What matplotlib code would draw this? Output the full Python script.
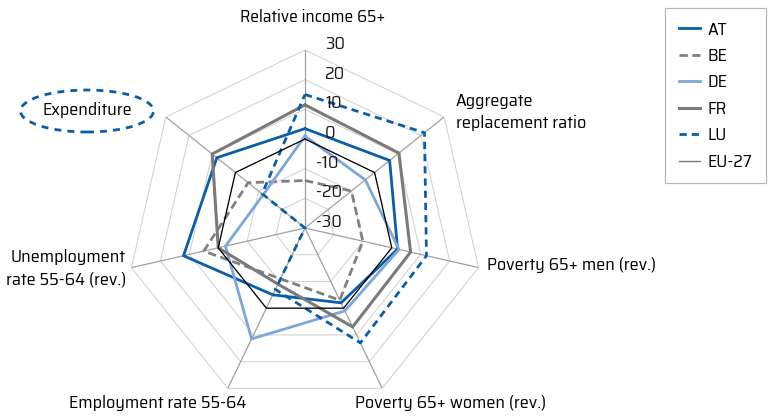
import numpy as np
import matplotlib
matplotlib.use("Agg")
import matplotlib.pyplot as plt
from matplotlib.lines import Line2D
from matplotlib.patches import Ellipse

# --------------------------------------------------------------------------- #
# Data (deviation from EU-27, clockwise from the top axis)                     #
# --------------------------------------------------------------------------- #
axis_labels = ["Relative income 65+", "Aggregate\nreplacement ratio",
               "Poverty 65+ men (rev.)", "Poverty 65+ women (rev.)",
               "Employment rate 55-64", "Unemployment\nrate 55-64 (rev.)",
               "Expenditure"]
ticks = [30, 20, 10, 0, -10, -20, -30]

AT = [3.5, 6.5, 2, -2, -5, 12, 8]
BE = [-14, -10, -10, -3, -11, 5, -5.5]
DE = [1, -4, 2.5, 1, 11.5, -2.5, -12]
FR = [11.5, 10.5, 6.5, 7, -9, 0, 10]
LU = [15, 21.5, 12, 13, -7, -30, -11.5]
EU27 = [0, 0, 0, 0, 0, 0, 0]

series = [
    ("AT", AT, dict(color="#0a5ea8", lw=2.0, ls="-")),
    ("BE", BE, dict(color="#808080", lw=2.0, ls=(0, (3, 1.6)))),
    ("DE", DE, dict(color="#7da6d9", lw=2.0, ls="-")),
    ("FR", FR, dict(color="#7a7a7a", lw=2.2, ls="-")),
    ("LU", LU, dict(color="#0a5ea8", lw=2.0, ls=(0, (2.6, 1.8)))),
    ("EU-27", EU27, dict(color="#000000", lw=0.9, ls="-")),
]

plt.rcParams["font.family"] = ["Saira SemiCondensed", "Roboto Condensed",
                               "DejaVu Sans"]
W, H = 771, 416
fig = plt.figure(figsize=(W / 100, H / 100), dpi=100)

# centre of the web at (305, 228) px, radius 178 px
cx, cy, R = 305, 228, 178
ax = fig.add_axes([(cx - R) / W, 1 - (cy + R) / H, 2 * R / W, 2 * R / H],
                  projection="polar")
ax.set_theta_offset(np.pi / 2)
ax.set_theta_direction(-1)
ax.set_ylim(-30, 30)
ax.axis("off")

n = len(axis_labels)
theta = np.linspace(0, 2 * np.pi, n, endpoint=False)
theta_c = np.append(theta, theta[0])

# heptagon grid + spokes
for lev in [-20, -10, 0, 10, 20, 30]:
    ax.plot(theta_c, [lev] * (n + 1), color="#d4d4d4", lw=0.8, zorder=1)
for t in theta:
    ax.plot([t, t], [-30, 30], color="#a0a0a0", lw=0.9, zorder=1)

for name, vals, st in series:
    v = np.append(vals, vals[0])
    ax.plot(theta_c, v, label=name, zorder=3, solid_joinstyle="miter", **st)

# radial tick labels beside the top axis
for tv in ticks:
    dx = 20 if tv >= 0 else 11
    ax.annotate(str(tv), xy=(0, tv), xytext=(dx, 6), textcoords="offset pixels",
                ha="left", va="center", fontsize=13, color="#1a1a1a")

# axis names (pixel positions of the reference)
fs = 13
def px(x, y):
    return x / W, 1 - y / H

fig.text(*px(313, 17), axis_labels[0], ha="center", va="center", fontsize=12.6)
fig.text(*px(456, 112), axis_labels[1], ha="left", va="center", fontsize=fs,
         linespacing=1.5)
fig.text(*px(487, 265), axis_labels[2], ha="left", va="center", fontsize=fs)
fig.text(*px(451, 403), axis_labels[3], ha="center", va="center", fontsize=fs)
fig.text(*px(158, 403), axis_labels[4], ha="center", va="center", fontsize=fs)
fig.text(*px(126, 268), axis_labels[5], ha="right", va="center", fontsize=fs,
         linespacing=1.5)
fig.text(*px(87, 110), axis_labels[6], ha="center", va="center", fontsize=fs)
fig.add_artist(Ellipse(px(87, 111), 133 / W, 42 / H, transform=fig.transFigure,
                       fill=False, ec="#0a5ea8", lw=2.0, ls=(0, (2.5, 2.2))))

# legend
handles = [Line2D([], [], **st) for _, _, st in series]
handles[-1] = Line2D([], [], color="#7a7a7a", lw=1.0)
leg = fig.legend(handles, [s[0] for s in series], loc="upper right",
                 bbox_to_anchor=px(766, 8), fontsize=fs, frameon=True,
                 fancybox=False, handlelength=1.2, handletextpad=0.4,
                 labelspacing=0.58, borderpad=0.75, borderaxespad=0)
leg.get_frame().set_edgecolor("#a6a6a6")
leg.get_frame().set_linewidth(0.9)

fig.savefig("out.png", dpi=100)
